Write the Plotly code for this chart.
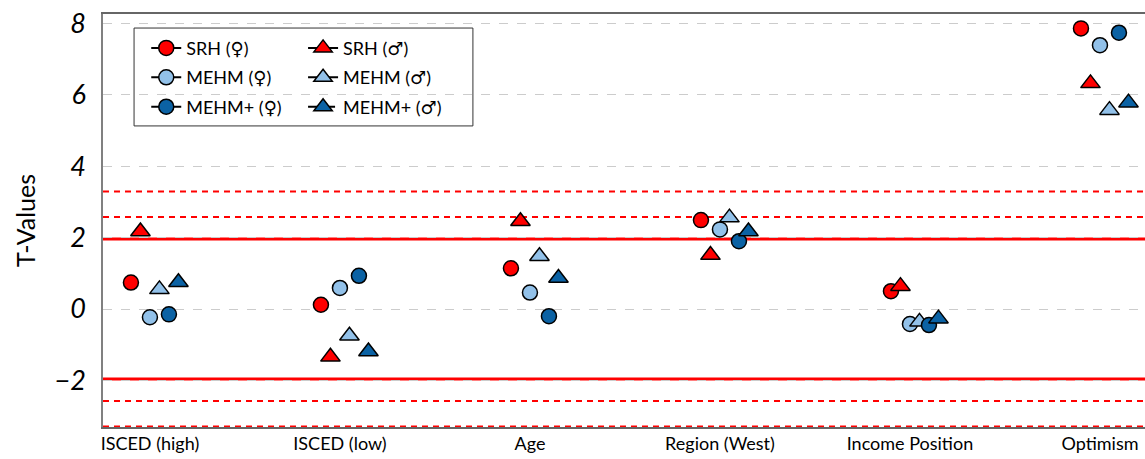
import plotly.graph_objects as go

# Covariates on the x axis
categories = ["ISCED (high)", "ISCED (low)", "Age", "Region (West)",
              "Income Position", "Optimism"]

# T-values per model and sex
srh_f = [0.74, 0.12, 1.14, 2.49, 0.50, 7.86]
srh_m = [2.17, -1.34, 2.46, 1.51, 0.64, 6.32]
mehm_f = [-0.23, 0.59, 0.46, 2.23, -0.42, 7.39]
mehm_m = [0.55, -0.75, 1.48, 2.56, -0.36, 5.57]
mehmp_f = [-0.15, 0.93, -0.20, 1.90, -0.45, 7.74]
mehmp_m = [0.75, -1.19, 0.87, 2.17, -0.27, 5.78]

# Critical values (two-sided 5 %, 1 %, 0.1 %)
crit_solid = [1.96, -1.96]
crit_dashed = [2.58, -2.58, 3.29, -3.29]

y_ticks = [-2, 0, 2, 4, 6, 8]

RED = "#ff0000"
LIGHT = "#92c1e9"
DARK = "#0b62a4"
FONT = "Lato"

# sex symbols rendered with a font that carries full-size glyphs
FEM = "<span style='font-family:DejaVu Sans'>♀</span>"
MAL = "<span style='font-family:DejaVu Sans'>♂</span>"

series = [
    # name, values, colour, symbol, offset, legend, line dash
    (f"SRH ({FEM})", srh_f, RED, "circle", -0.10, "legend", "solid"),
    (f"MEHM ({FEM})", mehm_f, LIGHT, "circle", 0.00, "legend", "solid"),
    (f"MEHM+ ({FEM})", mehmp_f, DARK, "circle", 0.10, "legend", "solid"),
    (f"SRH ({MAL})", srh_m, RED, "triangle-up", -0.05, "legend2", "solid"),
    (f"MEHM ({MAL})", mehm_m, LIGHT, "triangle-up", 0.05, "legend2", "solid"),
    (f"MEHM+ ({MAL})", mehmp_m, DARK, "triangle-up", 0.15, "legend2", "dash"),
]
plot_order = [0, 3, 1, 4, 2, 5]

fig = go.Figure()

for idx in plot_order:
    name, vals, col, sym, off, _, _ = series[idx]
    size = 15 if sym == "circle" else 17
    fig.add_trace(go.Scatter(
        x=[i + off for i in range(len(categories))], y=vals,
        mode="markers", name=name, showlegend=False,
        marker=dict(symbol=sym, size=size, color=col,
                    line=dict(color="black", width=1.5)),
    ))

# legend entries (line + marker)
for k, (name, vals, col, sym, off, leg, dash) in enumerate(series):
    size = 15 if sym == "circle" else 16
    fig.add_trace(go.Scatter(
        x=[None], y=[None], mode="lines+markers", name=name,
        legend=leg, legendgroup=f"g{k}",
        line=dict(color="black", width=2, dash=dash),
        marker=dict(symbol=sym, size=size, color=col,
                    line=dict(color="black", width=1.5)),
    ))

shapes = [dict(type="rect", xref="paper", yref="paper",
               x0=0.0298, x1=0.355, y0=0.729, y1=0.966,
               line=dict(color="#333333", width=1), fillcolor="white",
               layer="between")]
for v in crit_solid:
    shapes.append(dict(type="line", xref="paper", yref="y", x0=0, x1=1,
                       y0=v, y1=v, line=dict(color=RED, width=3),
                       layer="between"))
for v in crit_dashed:
    shapes.append(dict(type="line", xref="paper", yref="y", x0=0, x1=1,
                       y0=v, y1=v, line=dict(color=RED, width=2,
                                             dash="6px,5px"),
                       layer="between"))

legend_common = dict(
    font=dict(family=FONT, size=18, color="black"),
    bgcolor="rgba(0,0,0,0)", borderwidth=0,
    xanchor="left", yanchor="top", tracegroupgap=3,
)

fig.update_layout(
    width=1145, height=459,
    margin=dict(l=103, r=0, t=14, b=32),
    paper_bgcolor="white", plot_bgcolor="white",
    font=dict(family=FONT, color="black"),
    shapes=shapes,
    legend=dict(x=0.0415, y=0.962, **legend_common),
    legend2=dict(x=0.192, y=0.962, **legend_common),
    xaxis=dict(
        range=[-0.247, 5.237], tickvals=list(range(len(categories))),
        ticktext=categories, showgrid=False, zeroline=False,
        showline=True, mirror=True, linecolor="#666666", linewidth=1.5,
        ticks="", tickfont=dict(family=FONT, size=18, color="black"),
    ),
    yaxis=dict(
        range=[-3.305, 8.263], tickvals=y_ticks,
        showgrid=True, gridcolor="#cccccc", gridwidth=1, griddash="dash",
        zeroline=False, showline=True, linecolor="#808080", linewidth=1.5,
        ticks="", ticklabelstandoff=10,
        tickfont=dict(family=FONT, size=27, color="black", style="italic"),
        title=dict(text="T-Values", standoff=12,
                   font=dict(family=FONT, size=25, color="black")),
    ),
)

fig.write_html("out.html")
